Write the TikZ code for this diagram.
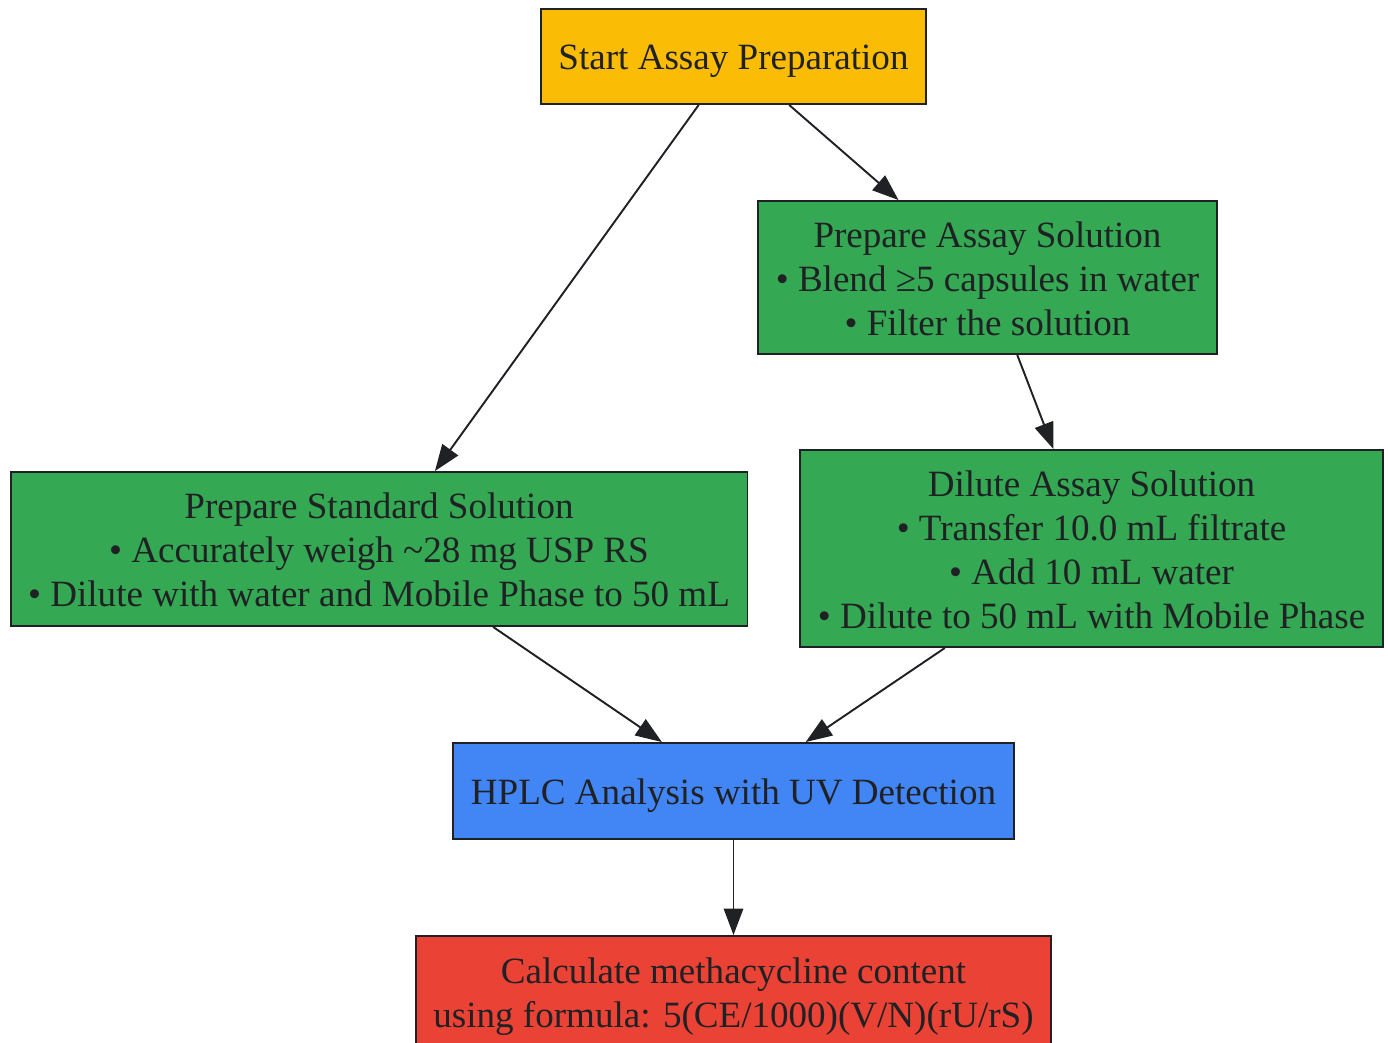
\documentclass[tikz,border=0pt]{standalone}
\usepackage{fontspec}
\setmainfont{Liberation Serif}
\usetikzlibrary{arrows.meta}

\definecolor{ink}{HTML}{202124}
\definecolor{startyellow}{HTML}{FBBC05}
\definecolor{prepgreen}{HTML}{34A853}
\definecolor{hplcblue}{HTML}{4285F4}
\definecolor{calcred}{HTML}{EA4335}

\tikzset{
  box/.style={draw=ink, line width=1.1pt, text=ink, align=center,
    inner xsep=10pt, inner ysep=0pt,
    font=\fontsize{21.1}{25}\selectfont},
  oneline/.style={box,
    execute at begin node={\rule{0pt}{20.5pt}},
    execute at end node={\rule[-5.5pt]{0pt}{0pt}}},
  flow/.style={draw=ink, line width=1.1pt, -{Triangle[length=15pt,width=11pt]}}
}

\begin{document}
\begin{tikzpicture}[x=0.02cm, y=-0.02cm]
\useasboundingbox (0,0) rectangle (1388,1042);

\node[oneline, fill=startyellow, minimum height=1.9cm] (start) at (733.5,56.5) {Start Assay Preparation};
\node[box, fill=prepgreen, minimum height=3.06cm] (assay) at (987.5,277.5)
  {\rule{0pt}{16pt}Prepare Assay Solution\\ • Blend ≥5 capsules in water\\ • Filter the solution};
\node[box, fill=prepgreen, minimum height=3.08cm] (standard) at (379,549)
  {\rule{0pt}{16pt}Prepare Standard Solution\\ • Accurately weigh \textasciitilde28 mg USP RS\\ • Dilute with water and Mobile Phase to 50 mL};
\node[box, fill=prepgreen, minimum height=3.94cm] (dilute) at (1091.5,548.5)
  {\rule{0pt}{16pt}Dilute Assay Solution\\ • Transfer 10.0 mL filtrate\\ • Add 10 mL water\\ • Dilute to 50 mL with Mobile Phase};
\node[oneline, fill=hplcblue, minimum height=1.92cm] (hplc) at (733.5,791) {HPLC Analysis with UV Detection};
\node[box, fill=calcred, minimum height=2.2cm] (calc) at (733.5,991)
  {\rule{0pt}{21.5pt}Calculate methacycline content\\ using formula: 5(CE/1000)(V/N)(rU/rS)};

\draw[flow] (start) -- (standard);
\draw[flow] (start) -- (assay);
\draw[flow] (assay) -- (dilute);
\draw[flow] (standard) -- (hplc);
\draw[flow] (dilute) -- (hplc);
\draw[flow] (hplc) -- (calc);
\end{tikzpicture}
\end{document}
